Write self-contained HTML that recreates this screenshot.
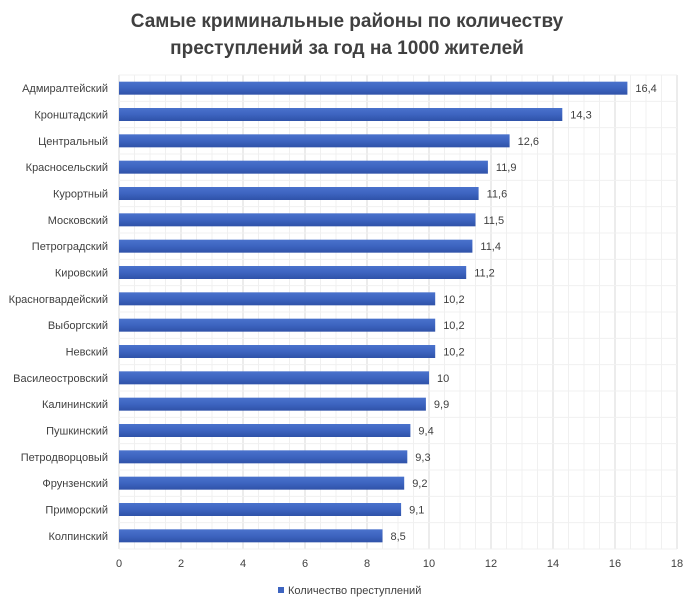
<!DOCTYPE html>
<html><head><meta charset="utf-8"><style>
body{margin:0;background:#fff;width:695px;height:610px;overflow:hidden;font-family:"Liberation Sans",sans-serif}
</style></head><body>
<svg id="chart" width="695" height="610" xmlns="http://www.w3.org/2000/svg">
<defs><linearGradient id="g" x1="0" y1="0" x2="0" y2="1"><stop offset="0" stop-color="#4a72cc"/><stop offset="0.5" stop-color="#3d64c0"/><stop offset="1" stop-color="#2f52a8"/></linearGradient></defs>
<text x="347" y="27" text-anchor="middle" font-size="19" font-weight="bold" fill="#404040">Самые криминальные районы по количеству</text>
<text x="347" y="54" text-anchor="middle" font-size="19" font-weight="bold" fill="#404040">преступлений за год на 1000 жителей</text>
<g id="grid"></g><g id="bars"></g><g id="labels"></g>
<rect x="278" y="587" width="6" height="6" fill="#3d64c0"/>
<text x="288" y="594" font-size="11" fill="#404040">Количество преступлений</text>
</svg>
<script>
const categories=["Адмиралтейский","Кронштадский","Центральный","Красносельский","Курортный","Московский","Петроградский","Кировский","Красногвардейский","Выборгский","Невский","Василеостровский","Калининский","Пушкинский","Петродворцовый","Фрунзенский","Приморский","Колпинский"];
const values=[16.4,14.3,12.6,11.9,11.6,11.5,11.4,11.2,10.2,10.2,10.2,10,9.9,9.4,9.3,9.2,9.1,8.5];
const valueLabels=["16,4","14,3","12,6","11,9","11,6","11,5","11,4","11,2","10,2","10,2","10,2","10","9,9","9,4","9,3","9,2","9,1","8,5"];
const ticks=[0,2,4,6,8,10,12,14,16,18];
{
const NS="http://www.w3.org/2000/svg";
const x0=119,x1=677,yTop=75,yBot=549,xmax=18;
const xs=v=>x0+(v/xmax)*(x1-x0);
const step=(yBot-yTop)/categories.length;
const ys=i=>yTop+step*(i+0.5);
function mk(t,a,p){const e=document.createElementNS(NS,t);for(const k in a)e.setAttribute(k,a[k]);p.appendChild(e);return e;}
const grid=document.getElementById('grid'),bars=document.getElementById('bars'),labels=document.getElementById('labels');
for(let v=0;v<=xmax;v+=0.5){const l=mk('line',{x1:xs(v),x2:xs(v),y1:yTop,y2:yBot,stroke:v%2===0?'#d9d9d9':'#f0f0f0','stroke-width':1},grid);

}
for(let i=0;i<=categories.length;i++){const l=mk('line',{x1:x0,x2:x1,y1:yTop+step*i,y2:yTop+step*i,stroke:'#f0f0f0'},grid);

}
ticks.forEach(t=>{const e=mk('text',{x:xs(t),y:567,'text-anchor':'middle','font-size':11,fill:'#404040'},labels);e.textContent=t;

});
categories.forEach((c,i)=>{
const y=ys(i);
const r=mk('rect',{x:x0,y:y-6.5,width:xs(values[i])-x0,height:13,fill:'url(#g)'},bars);


const t=mk('text',{x:108,y:y+4,'text-anchor':'end','font-size':11,fill:'#404040'},labels);t.textContent=c;


const v=mk('text',{x:xs(values[i])+8,y:y+4,'font-size':11,fill:'#404040'},labels);v.textContent=valueLabels[i];


});
}
</script>
</body></html>
